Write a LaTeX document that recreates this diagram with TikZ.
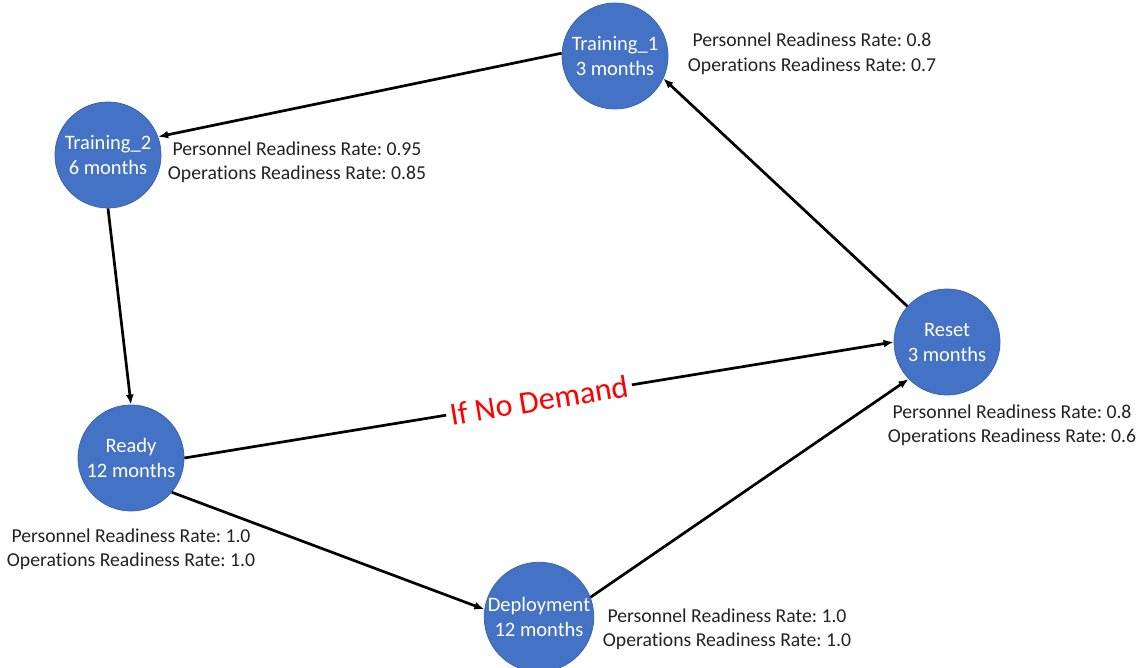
\documentclass[tikz,border=0pt]{standalone}
\usepackage{fontspec}
\setmainfont{Carlito}[Ligatures=NoCommon]
\usetikzlibrary{arrows.meta}
\definecolor{nodeblue}{HTML}{4472C4}
\definecolor{nodeedge}{HTML}{3A64B0}
\definecolor{txtgray}{HTML}{222222}
\frenchspacing
\tikzset{
  state/.style={circle, fill=nodeblue, draw=nodeedge, line width=0.8pt, minimum size=106pt, inner sep=0pt,
    text=white, align=center, font=\frenchspacing\fontsize{20.5}{25}\selectfont},
  info/.style={align=center, text=txtgray, font=\frenchspacing\fontsize{19.7}{24.5}\selectfont, inner sep=0pt},
  link/.style={line width=2.7pt, draw=black, -{Latex[length=10pt,width=8pt]}},
  demand/.style={text=red, font=\fontsize{32}{38}\selectfont, fill=white, inner sep=4pt, sloped}
}
\begin{document}
\begin{tikzpicture}[x=1pt,y=-1pt]
\path[use as bounding box] (0,0) rectangle (1141,668);
\node[state] (t1) at (615,56) {Training\_1\\3 months};
\node[state] (t2) at (108,155) {Training\_2\\6 months};
\node[state] (ready) at (131,458) {Ready\\12 months};
\node[state] (dep) at (539,617) {Deployment\\12 months};
\node[state] (reset) at (947,342) {Reset\\3 months};

\node[info] (t1i) at (812,54) {Personnel Readiness Rate: 0.8\\Operations Readiness Rate: 0.7};
\node[info] (t2i) at (297,162) {Personnel Readiness Rate: 0.95\\Operations Readiness Rate: 0.85};
\node[info] (reseti) at (1012,425) {Personnel Readiness Rate: 0.8\\Operations Readiness Rate: 0.6};
\node[info] (readyi) at (131,549) {Personnel Readiness Rate: 1.0\\Operations Readiness Rate: 1.0};
\node[info] (depi) at (727,629) {Personnel Readiness Rate: 1.0\\Operations Readiness Rate: 1.0};

\draw[link] (t1.177) -- (t2.20);
\draw[link] (t2.south) -- (ready.north);
\draw[link] (ready.east) -- node[demand] (nd) {If No Demand} (reset.west);
\draw[link] (ready.-40) -- (dep.172);
\draw[link] (dep.21) -- (reset.-136);
\draw[link] (reset.138) -- (t1.-25);
\end{tikzpicture}
\end{document}
